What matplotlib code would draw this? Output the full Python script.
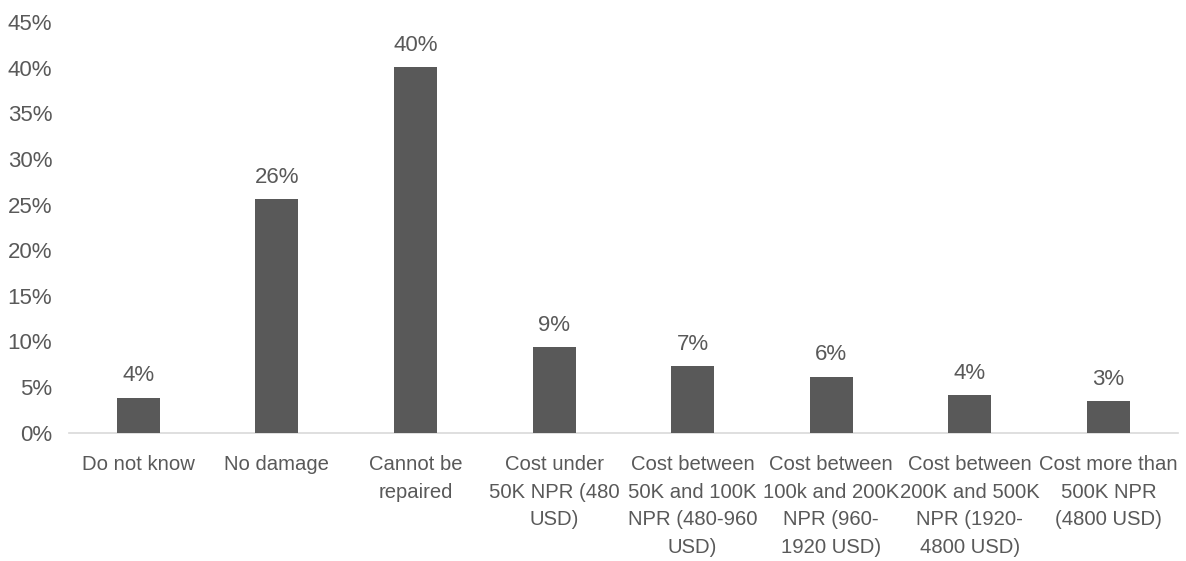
import matplotlib
matplotlib.use("Agg")
import matplotlib.pyplot as plt
from matplotlib.ticker import MultipleLocator, FuncFormatter

categories = [
    "Do not know",
    "No damage",
    "Cannot be\nrepaired",
    "Cost under\n50K NPR (480\nUSD)",
    "Cost between\n50K and 100K\nNPR (480-960\nUSD)",
    "Cost between\n100k and 200K\nNPR (960-\n1920 USD)",
    "Cost between\n200K and 500K\nNPR (1920-\n4800 USD)",
    "Cost more than\n500K NPR\n(4800 USD)",
]
values = [3.85, 25.6, 40.1, 9.35, 7.35, 6.15, 4.1, 3.45]

plt.rcParams['font.family'] = ['Liberation Sans', 'DejaVu Sans']
text_color = "#595959"
bar_color = "#595959"

fig = plt.figure(figsize=(11.86, 5.61), dpi=100)
ax = fig.add_axes([0.0582, 0.2287, 0.9348, 0.7321])

x = list(range(len(categories)))
bars = ax.bar(x, values, width=0.31, color=bar_color, zorder=3)

for xi, v in zip(x, values):
    ax.annotate(f"{v:.0f}%", (xi, v), xytext=(0, 8), textcoords="offset points",
                ha="center", va="bottom", fontsize=16, color=text_color)

ax.set_xlim(-0.5, len(categories) - 0.5)
ax.set_ylim(0, 45)
ax.yaxis.set_major_locator(MultipleLocator(5))
ax.yaxis.set_major_formatter(FuncFormatter(lambda v, p: f"{v:.0f}%"))
ax.set_xticks(x)
ax.set_xticklabels(categories, fontsize=14.6, color=text_color, linespacing=1.58)
ax.tick_params(axis='y', labelsize=16, labelcolor=text_color, length=0, pad=12)
ax.tick_params(axis='x', length=0, pad=16)

for s in ["top", "right", "left"]:
    ax.spines[s].set_visible(False)
ax.spines["bottom"].set_color("#d9d9d9")
ax.spines["bottom"].set_linewidth(1.2)

fig.savefig("out.png", dpi=100)
